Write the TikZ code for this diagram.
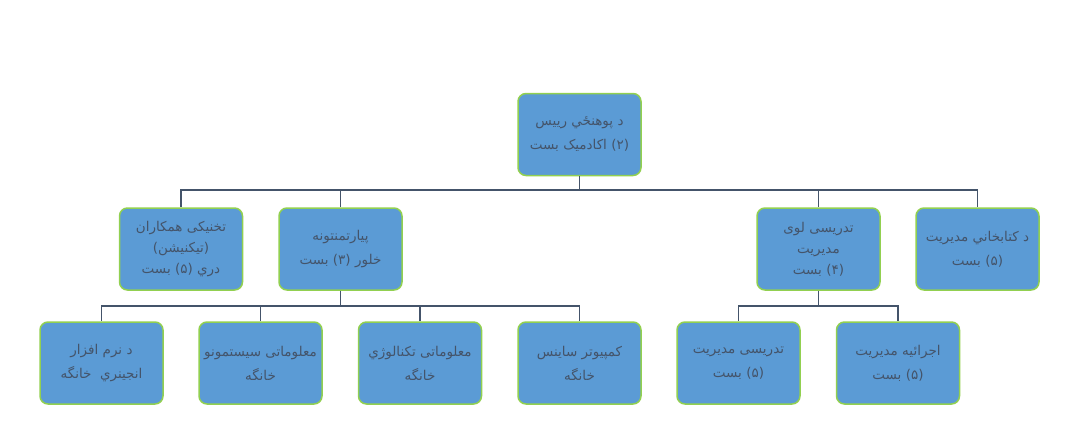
\documentclass[tikz,border=0pt]{standalone}
\usepackage{fontspec}
\newfontfamily\arabicfont[Script=Arabic]{DejaVu Sans}
\TeXXeTstate=1
\definecolor{boxfill}{HTML}{5B9BD5}
\definecolor{boxedge}{HTML}{92D050}
\definecolor{linec}{HTML}{44546A}
\definecolor{txt}{HTML}{44546A}
\begin{document}
\begin{tikzpicture}[x=1pt,y=-1pt,
  unit/.style={draw=boxedge, line width=1.5pt, fill=boxfill, rounded corners=8pt,
    minimum width=123pt, minimum height=82pt, align=center, text=txt,
    font=\arabicfont\fontsize{13.5}{24}\selectfont, inner sep=2pt},
  unitthree/.style={unit, font=\arabicfont\fontsize{13.5}{21}\selectfont},
  conn/.style={draw=linec, line width=1.6pt}]
\useasboundingbox (0,0) rectangle (1082,447);
\node[unit] (root) at (579.5,134.5) {\beginR د پوهنځي رييس\endR\\\beginR (۲) اکادمیک بست\endR};
\node[unitthree] (tech) at (181,249) {\beginR تخنیکی همکاران\endR\\\beginR (تیکنیشن)\endR\\\beginR دري (۵) بست\endR};
\node[unit] (dept) at (340.5,249) {\beginR پیارتمنتونه\endR\\\beginR خلور (۳) بست\endR};
\node[unitthree] (lawi) at (818.5,249) {\beginR تدریسی لوی\endR\\\beginR مدیریت\endR\\\beginR (۴) بست\endR};
\node[unit] (lib) at (977.5,249) {\beginR د کتابخاني مدیریت\endR\\\beginR (۵) بست\endR};
\node[unit] (se) at (101.5,363) {\beginR د نرم افزار\endR\\\beginR انجینري\ \ خانگه\endR};
\node[unit] (is) at (260.5,363) {\beginR معلوماتی سیستمونو\endR\\\beginR خانگه\endR};
\node[unit] (it) at (420,363) {\beginR معلوماتی تکنالوژي\endR\\\beginR خانگه\endR};
\node[unit] (cs) at (579.5,363) {\beginR کمپیوتر ساینس\endR\\\beginR خانگه\endR};
\node[unit] (tm) at (738.5,363) {\beginR تدریسی مدیریت\endR\\\beginR (۵) بست\endR};
\node[unit] (em) at (898,363) {\beginR اجرائیه مدیریت\endR\\\beginR (۵) بست\endR};
\coordinate (b1) at (579.5,190);
\coordinate (b2) at (340.5,306);
\coordinate (b3) at (818.5,306);
\foreach \c in {tech,dept,lawi,lib}
  \draw[conn] (root.south) -- (b1) -| (\c.north);
\foreach \c in {se,is,it,cs}
  \draw[conn] (dept.south) -- (b2) -| (\c.north);
\foreach \c in {tm,em}
  \draw[conn] (lawi.south) -- (b3) -| (\c.north);
\end{tikzpicture}
\end{document}
